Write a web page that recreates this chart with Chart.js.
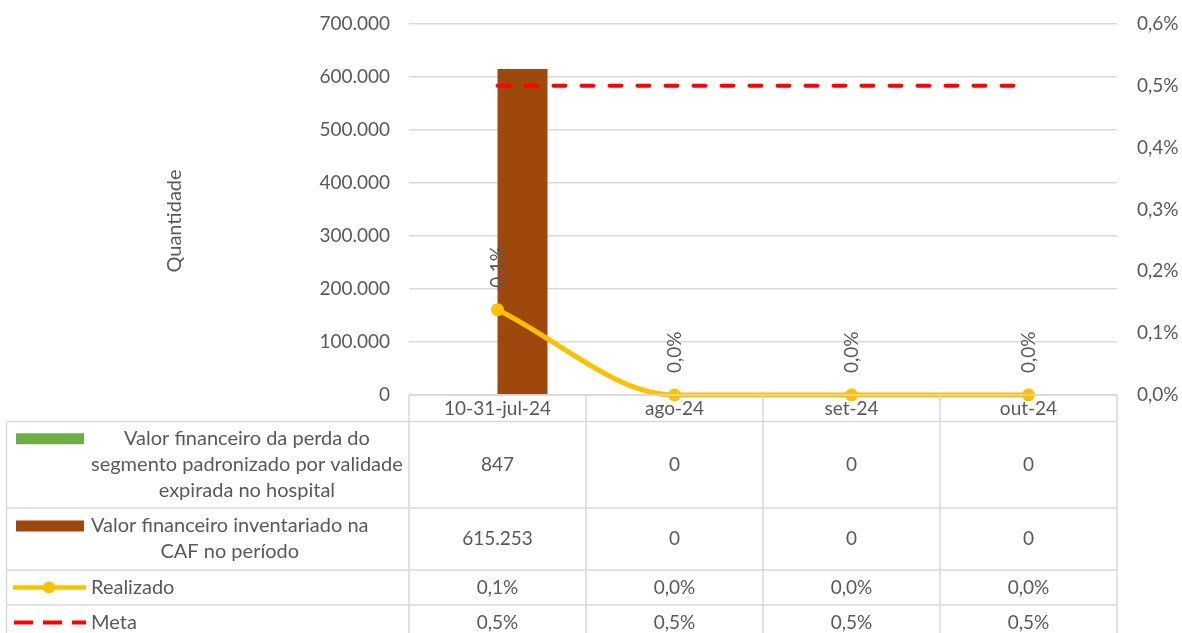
<!DOCTYPE html>
<html>
<head>
<meta charset="utf-8">
<script src="https://cdn.jsdelivr.net/npm/chart.js@4.4.1/dist/chart.umd.min.js"></script>
<style>
	html, body { margin: 0; padding: 0; background: #fff; }
	#wrap { position: relative; width: 1182px; height: 633px; }
</style>
</head>
<body>
<div id="wrap"><canvas id="chart"></canvas></div>
<script>
// data
const categories = ['10-31-jul-24', 'ago-24', 'set-24', 'out-24'];
const perdaValues = [847, 0, 0, 0];
const inventariadoValues = [615253, 0, 0, 0];
const realizadoValues = [0.00138, 0, 0, 0];
const metaValues = [0.005, 0.005, 0.005, 0.005];

const seriesNames = [
	'Valor financeiro da perda do segmento padronizado por validade expirada no hospital',
	'Valor financeiro inventariado na CAF no período',
	'Realizado',
	'Meta'
];
// line breaks as they appear in the table legend
const legendLines = [
	['Valor financeiro da perda do', 'segmento padronizado por validade', 'expirada no hospital'],
	['Valor financeiro inventariado na', 'CAF no período'],
	['Realizado'],
	['Meta']
];
const leftAxisTitle = 'Quantidade';
const leftMax = 700000, leftStep = 100000;
const rightMax = 0.006, rightStep = 0.001;

const FONT = 'Lato';
const TEXT = '#595959';
const GRID = '#d9d9d9';
const GREEN = '#70ad47', BROWN = '#9e480e', YELLOW = '#ffc000', RED = '#ff0000';

const fmtNum = v => String(Math.round(v)).replace(/\B(?=(\d{3})+(?!\d))/g, '.');
const fmtPct = v => (v * 100).toFixed(1).replace('.', ',') + '%';

Chart.defaults.font.family = FONT;
Chart.defaults.font.size = 19;
Chart.defaults.color = TEXT;

// rotated labels above the Realizado points
const pointLabels = {
	id: 'pointLabels',
	afterDatasetsDraw(chart) {
		const ctx = chart.ctx;
		const meta = chart.getDatasetMeta(0);
		ctx.save();
		ctx.font = '19px ' + FONT;
		ctx.fillStyle = TEXT;
		ctx.textAlign = 'left';
		ctx.textBaseline = 'middle';
		meta.data.forEach((pt, i) => {
			ctx.save();
			ctx.translate(pt.x, pt.y - 22);
			ctx.rotate(-Math.PI / 2);
			ctx.fillText(fmtPct(realizadoValues[i]), 0, 0);
			ctx.restore();
		});
		ctx.restore();
	}
};

// data table under the plot, like the Excel one
const dataTable = {
	id: 'dataTable',
	afterDraw(chart) {
		const { ctx, chartArea: area } = chart;
		const colW = area.width / categories.length;
		const rows = [area.bottom, 421.5, 508, 570, 605, 640];
		const tableLeft = 6.5;
		const bottom = rows[rows.length - 1];

		ctx.save();
		ctx.strokeStyle = GRID;
		ctx.lineWidth = 1.5;
		ctx.beginPath();
		ctx.moveTo(area.left, rows[0]); ctx.lineTo(area.right, rows[0]);
		for (let r = 1; r < rows.length - 1; r++) {
			ctx.moveTo(tableLeft, rows[r]); ctx.lineTo(area.right, rows[r]);
		}
		ctx.moveTo(tableLeft, rows[1]); ctx.lineTo(tableLeft, bottom);
		for (let c = 0; c <= categories.length; c++) {
			const cx = area.left + c * colW;
			ctx.moveTo(cx, rows[0]); ctx.lineTo(cx, bottom);
		}
		ctx.stroke();

		const cells = [
			perdaValues.map(fmtNum),
			inventariadoValues.map(fmtNum),
			realizadoValues.map(fmtPct),
			metaValues.map(fmtPct)
		];
		ctx.font = '19px ' + FONT;
		ctx.fillStyle = TEXT;
		ctx.textBaseline = 'middle';
		ctx.textAlign = 'center';
		cells.forEach((vals, r) => {
			const cy = (rows[r + 1] + rows[r + 2]) / 2;
			vals.forEach((s, c) => ctx.fillText(s, area.left + (c + 0.5) * colW, cy));
		});

		// legend column
		ctx.font = '20px ' + FONT;
		const lineH = 26;
		const textLeft = 91;
		legendLines.forEach((lines, r) => {
			const cy = (rows[r + 1] + rows[r + 2]) / 2;
			const firstY = cy - (lines.length - 1) * lineH / 2;
			const maxW = Math.max(...lines.map(l => ctx.measureText(l).width));
			ctx.textAlign = 'center';
			ctx.fillStyle = TEXT;
			lines.forEach((l, k) => ctx.fillText(l, textLeft + maxW / 2, firstY + k * lineH));

			if (r === 0 || r === 1) {
				ctx.fillStyle = r === 0 ? GREEN : BROWN;
				ctx.fillRect(16, firstY - 5.5, 68, 11);
			} else if (r === 2) {
				ctx.strokeStyle = YELLOW;
				ctx.lineWidth = 4.5;
				ctx.beginPath(); ctx.moveTo(13, cy); ctx.lineTo(86, cy); ctx.stroke();
				ctx.fillStyle = YELLOW;
				ctx.beginPath(); ctx.arc(49, cy, 6, 0, Math.PI * 2); ctx.fill();
			} else {
				ctx.strokeStyle = RED;
				ctx.lineWidth = 4;
				ctx.setLineDash([19, 10]);
				ctx.beginPath(); ctx.moveTo(14, cy); ctx.lineTo(86, cy); ctx.stroke();
				ctx.setLineDash([]);
			}
		});

		// left axis title
		ctx.fillStyle = TEXT;
		ctx.textAlign = 'center';
		ctx.translate(175, 221);
		ctx.rotate(-Math.PI / 2);
		ctx.fillText(leftAxisTitle, 0, 0);
		ctx.restore();
	}
};

new Chart(document.getElementById('chart'), {
	type: 'bar',
	data: {
		labels: categories,
		datasets: [
			{
				type: 'line',
				label: seriesNames[2],
				data: realizadoValues,
				yAxisID: 'y1',
				borderColor: YELLOW,
				backgroundColor: YELLOW,
				borderWidth: 5,
				pointRadius: 6.5,
				pointHoverRadius: 6.5,
				pointBorderWidth: 0,
				cubicInterpolationMode: 'monotone',
				clip: false,
				order: 0
			},
			{
				type: 'line',
				label: seriesNames[3],
				data: metaValues,
				yAxisID: 'y1',
				borderColor: RED,
				borderWidth: 4,
				borderDash: [12, 16],
				borderCapStyle: 'round',
				pointRadius: 0,
				clip: false,
				order: 1
			},
			{
				label: seriesNames[0],
				data: perdaValues,
				yAxisID: 'y',
				backgroundColor: GREEN,
				order: 2
			},
			{
				label: seriesNames[1],
				data: inventariadoValues,
				yAxisID: 'y',
				backgroundColor: BROWN,
				order: 3
			}
		]
	},
	options: {
		responsive: true,
		maintainAspectRatio: false,
		animation: false,
		layout: { padding: { top: 24, left: 0, right: 0, bottom: 0 } },
		datasets: {
			bar: { barPercentage: 1, categoryPercentage: 0.565 }
		},
		plugins: {
			legend: { display: false },
			tooltip: { enabled: false }
		},
		scales: {
			x: {
				grid: { display: false, drawTicks: false },
				border: { display: false },
				ticks: { padding: 2, maxRotation: 0, autoSkip: false },
				afterFit: s => { s.height = 238; }
			},
			y: {
				position: 'left',
				min: 0,
				max: leftMax,
				grid: { color: GRID, lineWidth: 1.5, drawTicks: false },
				border: { display: false },
				ticks: { stepSize: leftStep, padding: 19, callback: v => fmtNum(v) },
				// fixed width; tick padding shouldn't push the plot top down
				afterFit: s => { s.width = 409; s.paddingTop = 12; s.paddingBottom = 12; }
			},
			y1: {
				position: 'right',
				min: 0,
				max: rightMax,
				grid: { display: false, drawTicks: false },
				border: { display: false },
				ticks: { stepSize: rightStep, padding: 20, callback: v => fmtPct(v) },
				afterFit: s => { s.width = 65; s.paddingTop = 12; s.paddingBottom = 12; }
			}
		}
	},
	plugins: [pointLabels, dataTable]
});
</script>
</body>
</html>
